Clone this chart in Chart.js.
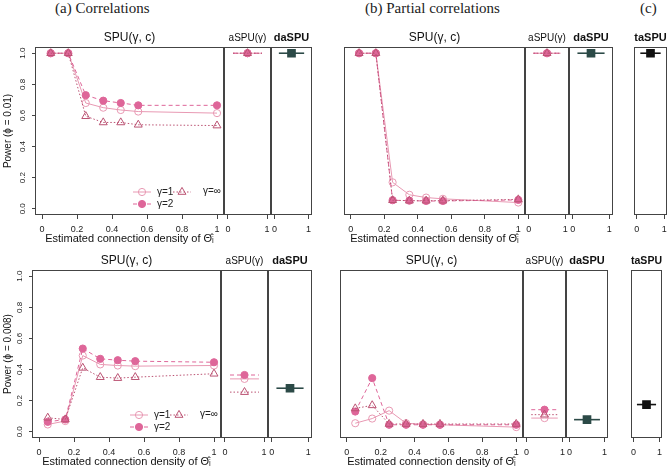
<!DOCTYPE html>
<html>
<head>
<meta charset="utf-8">
<script src="https://cdn.jsdelivr.net/npm/chart.js@4.4.0/dist/chart.umd.min.js"></script>
<style>
  body { margin: 0; background: #fff; }
  #page { position: relative; width: 669px; height: 469px; overflow: hidden; background: #fff; }
  #page canvas { position: absolute; }
  .ptitle { position: absolute; font-family: "Liberation Serif", serif; font-size: 15px; line-height: 18px; color: #222; white-space: nowrap; }
</style>
</head>
<body>
<div id="page">
  <div class="ptitle" style="left:55px; top:-1px">(a) Correlations</div>
  <div class="ptitle" style="left:365px; top:-1px">(b) Partial correlations</div>
  <div class="ptitle" style="left:640px; top:-1px">(c)</div>
</div>
<script>
// x positions (estimated connection density) of the SPU points
const DENSITY = [0.05, 0.15, 0.25, 0.35, 0.45, 0.55, 1];
const X_TICKS = [0, 0.2, 0.4, 0.6, 0.8, 1];
const X_TICKS_SMALL = [0, 1];
const Y_TICKS = [0, 0.2, 0.4, 0.6, 0.8, 1];

// (a) correlations, phi = 0.01
const aTopG1 = [1, 1, 0.68, 0.65, 0.635, 0.625, 0.615];
const aTopG2 = [1, 1, 0.73, 0.695, 0.68, 0.665, 0.665];
const aTopGInf = [1, 1, 0.595, 0.555, 0.555, 0.54, 0.535];
const aTopAspu = [1, 1, 1]; // gamma = 1, 2, inf
const aTopDaspu = 1;

// (b) partial correlations, phi = 0.01
const bTopG1 = [1, 1, 0.17, 0.09, 0.072, 0.064, 0.04];
const bTopG2 = [1, 1, 0.055, 0.052, 0.05, 0.05, 0.057];
const bTopGInf = [1, 1, 0.055, 0.052, 0.052, 0.052, 0.06];
const bTopAspu = [1, 1, 1];
const bTopDaspu = 1;
const cTopTaspu = 1;

// (a) correlations, phi = 0.008
const aBotG1 = [0.047, 0.069, 0.49, 0.433, 0.426, 0.422, 0.426];
const aBotG2 = [0.064, 0.079, 0.535, 0.469, 0.46, 0.454, 0.447];
const aBotGInf = [0.09, 0.079, 0.411, 0.351, 0.345, 0.351, 0.373];
const aBotAspu = [0.34, 0.365, 0.255];
const aBotDaspu = 0.28;

// (b) partial correlations, phi = 0.008
const bBotG1 = [0.055, 0.085, 0.136, 0.055, 0.048, 0.045, 0.03];
const bBotG2 = [0.13, 0.345, 0.045, 0.045, 0.045, 0.045, 0.045];
const bBotGInf = [0.15, 0.17, 0.05, 0.05, 0.05, 0.05, 0.05];
const bBotAspu = [0.088, 0.142, 0.11];
const bBotDaspu = 0.078;
const cBotTaspu = 0.175;

// styles
const FONT = "Liberation Sans, Arial, sans-serif";
const COL_G1 = "#e899b3";
const COL_G2 = "#de6699";
const COL_GINF = "#bb5373";
const COL_DA = "#2c4a47";
const COL_TA = "#111111";
const AXIS_COL = "#444";
const SEG_X = [0.13, 0.5, 0.87]; // horizontal segment drawn for single-value panels
const PAD = 2, STRIP_H = 16, XAXIS_H = 31;

const page = document.getElementById("page");

const STYLES = [
  { label: "γ=1", color: COL_G1, dash: [], shape: "circle", r: 3.6, fill: "rgba(0,0,0,0)", order: 2 },
  { label: "γ=2", color: COL_G2, dash: [4, 3], shape: "circle", r: 3.6, fill: COL_G2, order: 1 },
  { label: "γ=∞", color: COL_GINF, dash: [1.5, 2], shape: "triangle", r: 4.6, fill: "rgba(0,0,0,0)", order: 0 },
];

function makeDataset(st, data, radius) {
  return {
    label: st.label,
    data: data,
    borderColor: st.color,
    borderWidth: 1,
    borderDash: st.dash,
    pointStyle: st.shape,
    pointRadius: radius,
    pointBorderColor: st.color,
    pointBorderWidth: 1,
    pointBackgroundColor: st.fill,
    tension: 0,
    order: st.order,
  };
}

function spuSeries(g1, g2, gInf) {
  return [g1, g2, gInf].map((vals, k) =>
    makeDataset(STYLES[k], DENSITY.map((x, i) => ({ x, y: vals[i] })), STYLES[k].r)
  );
}

function aspuSeries(vals) {
  return vals.map((v, k) =>
    makeDataset(STYLES[k], SEG_X.map((x) => ({ x, y: v })), SEG_X.map((x, i) => (i === 1 ? STYLES[k].r : 0)))
  );
}

function singleSeries(v, color) {
  return [{
    data: SEG_X.map((x) => ({ x, y: v })),
    borderColor: color,
    borderWidth: 1.6,
    pointStyle: "rect",
    pointRadius: SEG_X.map((x, i) => (i === 1 ? 5 : 0)),
    pointBackgroundColor: color,
    pointBorderColor: color,
    tension: 0,
  }];
}

function fmtTick(v) {
  return v === 0 || v === 1 ? String(v) : v.toFixed(1);
}

const framePlugin = {
  id: "frame",
  afterDraw(chart) {
    const { ctx, chartArea: a } = chart;
    ctx.save();
    ctx.strokeStyle = AXIS_COL;
    ctx.lineWidth = 1;
    ctx.strokeRect(Math.round(a.left) + 0.5, Math.round(a.top) + 0.5, a.right - a.left - 1, a.bottom - a.top - 1);
    ctx.restore();
  },
};

// y tick labels are drawn parallel to the axis, like R
const yTickPlugin = {
  id: "yTicks",
  afterDraw(chart) {
    const y = chart.scales.y;
    if (!y.options.display) return;
    const ctx = chart.ctx;
    ctx.save();
    ctx.fillStyle = "#222";
    ctx.font = "8px " + FONT;
    ctx.textAlign = "center";
    ctx.textBaseline = "middle";
    Y_TICKS.forEach((v) => {
      ctx.save();
      ctx.translate(chart.chartArea.left - 12, y.getPixelForValue(v));
      ctx.rotate(-Math.PI / 2);
      ctx.fillText(v.toFixed(1), 0, 0);
      ctx.restore();
    });
    ctx.restore();
  },
};

function drawMarker(ctx, st, x, y) {
  ctx.beginPath();
  if (st.shape === "circle") {
    ctx.arc(x, y, st.r, 0, Math.PI * 2);
  } else {
    const r = st.r;
    ctx.moveTo(x, y - r);
    ctx.lineTo(x + r * 0.866, y + r * 0.5);
    ctx.lineTo(x - r * 0.866, y + r * 0.5);
    ctx.closePath();
  }
  ctx.fillStyle = st.fill;
  ctx.fill();
  ctx.setLineDash([]);
  ctx.strokeStyle = st.color;
  ctx.stroke();
}

const legendPlugin = {
  id: "gLegend",
  afterDatasetsDraw(chart, args, opts) {
    if (!opts.show) return;
    const ctx = chart.ctx;
    const a = chart.chartArea;
    const items = [
      { st: STYLES[0], x: a.left + 98, y: a.bottom - 23 },
      { st: STYLES[1], x: a.left + 98, y: a.bottom - 11 },
      { st: STYLES[2], x: a.left + 138, y: a.bottom - 23 },
    ];
    ctx.save();
    ctx.lineWidth = 1;
    items.forEach((it, k) => {
      ctx.beginPath();
      ctx.setLineDash(it.st.dash);
      ctx.strokeStyle = it.st.color;
      ctx.moveTo(it.x, it.y);
      ctx.lineTo(it.x + 18, it.y);
      ctx.stroke();
      drawMarker(ctx, it.st, it.x + 9, it.y);
      ctx.fillStyle = "#222";
      ctx.font = "10px " + FONT;
      ctx.textBaseline = "middle";
      ctx.fillText(it.st.label, it.x + (k === 2 ? 30 : 24), it.y - (k === 2 ? 1 : 0));
    });
    ctx.restore();
  },
};

function addPanel(p) {
  const [l, t, r, b] = p.box;
  const yW = p.yTitle ? l - PAD : 0;
  const w = yW + PAD + (r - l) + PAD;
  const h = STRIP_H + (b - t) + XAXIS_H;
  const canvas = document.createElement("canvas");
  canvas.width = w;
  canvas.height = h;
  canvas.style.left = (l - yW - PAD) + "px";
  canvas.style.top = (t - STRIP_H) + "px";
  canvas.style.width = w + "px";
  canvas.style.height = h + "px";
  page.appendChild(canvas);

  const small = !p.xTitle;
  new Chart(canvas, {
    type: "line",
    data: { datasets: p.datasets },
    options: {
      responsive: false,
      animation: false,
      layout: { autoPadding: false, padding: { left: PAD, right: PAD, top: 0, bottom: 0 } },
      scales: {
        x: {
          type: "linear",
          min: small ? -0.1 : -0.04,
          max: small ? 1.1 : 1.04,
          afterBuildTicks: (s) => { s.ticks = (small ? X_TICKS_SMALL : X_TICKS).map((v) => ({ value: v })); },
          afterFit: (s) => {
            s.height = XAXIS_H;
            s.paddingLeft = 0;
            s.paddingRight = 0;
          },
          grid: { drawOnChartArea: false, drawTicks: true, tickLength: 4, color: AXIS_COL },
          border: { display: false },
          ticks: {
            autoSkip: false, maxRotation: 0, padding: 5, color: "#222",
            font: { family: FONT, size: 9 },
            callback: fmtTick,
          },
          title: {
            display: !small,
            text: p.xTitle || "",
            color: "#111",
            font: { family: FONT, size: 11, lineHeight: "14px" },
            padding: 0,
          },
        },
        y: {
          display: !!p.yTitle,
          min: -0.04,
          max: 1.04,
          afterBuildTicks: (s) => { s.ticks = Y_TICKS.map((v) => ({ value: v })); },
          afterFit: (s) => {
            s.width = yW;
            s.paddingTop = 0;
            s.paddingBottom = 0;
          },
          grid: { drawOnChartArea: false, drawTicks: true, tickLength: 3, color: AXIS_COL },
          border: { display: false },
          ticks: { display: false },
          title: {
            display: !!p.yTitle,
            text: p.yTitle || "",
            color: "#111",
            font: { family: FONT, size: 10, lineHeight: "12px" },
            padding: 0,
          },
        },
      },
      plugins: {
        legend: { display: false },
        tooltip: { enabled: false },
        title: {
          display: true,
          text: p.strip,
          fullSize: false,
          color: "#111",
          font: { family: FONT, size: p.stripSize, weight: p.bold ? "bold" : "normal", lineHeight: "14px" },
          padding: { top: 0, bottom: 2 },
        },
        gLegend: { show: !!p.legend },
      },
    },
    plugins: [framePlugin, yTickPlugin, legendPlugin],
  });
}

const X_TITLE = "Estimated connection density of Θ̂ᵢ";

// top row: phi = 0.01
addPanel({ box: [35, 47, 224, 215], strip: "SPU(γ, c)", stripSize: 12, xTitle: X_TITLE, yTitle: "Power (ϕ = 0.01)", legend: true, datasets: spuSeries(aTopG1, aTopG2, aTopGInf) });
addPanel({ box: [224, 47, 271, 215], strip: "aSPU(γ)", stripSize: 10, datasets: aspuSeries(aTopAspu) });
addPanel({ box: [271, 47, 312, 215], strip: "daSPU", stripSize: 11, bold: true, datasets: singleSeries(aTopDaspu, COL_DA) });
addPanel({ box: [344, 47, 525, 215], strip: "SPU(γ, c)", stripSize: 12, xTitle: X_TITLE, datasets: spuSeries(bTopG1, bTopG2, bTopGInf) });
addPanel({ box: [525, 47, 569, 215], strip: "aSPU(γ)", stripSize: 10, datasets: aspuSeries(bTopAspu) });
addPanel({ box: [569, 47, 613, 215], strip: "daSPU", stripSize: 11, bold: true, datasets: singleSeries(bTopDaspu, COL_DA) });
addPanel({ box: [634, 47, 667, 215], strip: "taSPU", stripSize: 11, bold: true, datasets: singleSeries(cTopTaspu, COL_TA) });

// bottom row: phi = 0.008
addPanel({ box: [32, 270, 221, 438], strip: "SPU(γ, c)", stripSize: 12, xTitle: X_TITLE, yTitle: "Power (ϕ = 0.008)", legend: true, datasets: spuSeries(aBotG1, aBotG2, aBotGInf) });
addPanel({ box: [221, 270, 268, 438], strip: "aSPU(γ)", stripSize: 10, datasets: aspuSeries(aBotAspu) });
addPanel({ box: [268, 270, 312, 438], strip: "daSPU", stripSize: 11, bold: true, datasets: singleSeries(aBotDaspu, COL_DA) });
addPanel({ box: [340, 270, 523, 438], strip: "SPU(γ, c)", stripSize: 12, xTitle: X_TITLE, datasets: spuSeries(bBotG1, bBotG2, bBotGInf) });
addPanel({ box: [523, 270, 566, 438], strip: "aSPU(γ)", stripSize: 10, datasets: aspuSeries(bBotAspu) });
addPanel({ box: [566, 270, 608, 438], strip: "daSPU", stripSize: 11, bold: true, datasets: singleSeries(bBotDaspu, COL_DA) });
addPanel({ box: [631, 270, 662, 438], strip: "taSPU", stripSize: 11, bold: true, datasets: singleSeries(cBotTaspu, COL_TA) });
</script>
</body>
</html>
